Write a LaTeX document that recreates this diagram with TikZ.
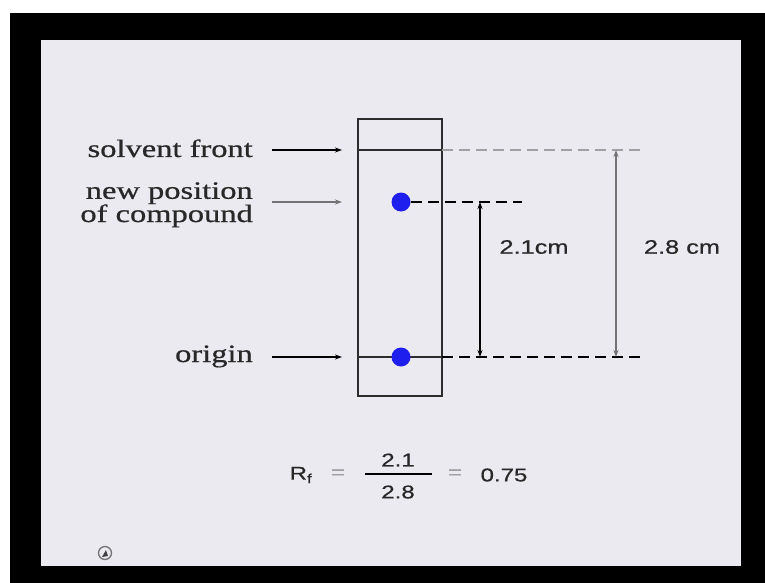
\documentclass[tikz,border=0pt]{standalone}
\usepackage{fontspec}
\setmainfont{Liberation Serif}
\setsansfont{Liberation Sans}
\newfontfamily\labelfont{Liberation Serif}[FakeBold=0.6]
\newfontfamily\dimfont{Liberation Sans}[FakeBold=0.6]
\usetikzlibrary{arrows.meta,positioning,calc}
\definecolor{panelbg}{RGB}{235,234,240}
\definecolor{spotblue}{RGB}{30,30,238}
\definecolor{plateline}{RGB}{45,45,45}
\definecolor{paleline}{RGB}{160,160,160}
\definecolor{midgray}{RGB}{115,115,115}
\definecolor{inktext}{RGB}{40,40,40}
\newcommand{\stretchx}[1]{\scalebox{1.3}[1]{#1}}

\begin{document}
\begin{tikzpicture}[x=1pt, y=-1pt,
    lbl/.style={anchor=base east, inner sep=0pt, text=inktext, font=\labelfont\fontsize{25}{22}\selectfont},
    dimlbl/.style={inner sep=0pt, text=inktext, font=\dimfont\fontsize{19.5}{22}\selectfont},
    eqn/.style={inner sep=0pt, text=inktext, font=\dimfont\fontsize{18.5}{22}\selectfont},
    plate/.style={draw=plateline, line width=2pt, minimum width=84pt, minimum height=277pt, inner sep=0pt},
    spot/.style={circle, fill=spotblue, minimum size=19pt, inner sep=0pt},
    arr/.style={-{Stealth[length=7pt,width=5pt]}, line width=1.6pt},
    dimarr/.style={{Stealth[length=7pt,width=5pt]}-{Stealth[length=7pt,width=5pt]}, line width=1.5pt},
    guide/.style={dash pattern=on 11pt off 6pt, line width=1.8pt}
]
\useasboundingbox (0,0) rectangle (765,583);
\fill[black] (10,13) rectangle (765,583);
\fill[panelbg] (41,40) rectangle (741,566);

% plate and its lines
\node[plate] (tlc) at (400,257.5) {};
\coordinate (frontL) at (358,150);
\coordinate (frontR) at (442,150);
\coordinate (frontE) at (642,150);
\coordinate (originL) at (358,357);
\coordinate (originR) at (442,357);
\coordinate (originE) at (642,357);
\coordinate (upE) at (522,202);
\draw[plateline, line width=1.8pt] (frontL) -- (frontR);
\draw[plateline, line width=1.8pt] (originL) -- (originR);
\draw[guide, paleline, line width=2.2pt] (frontR) -- (frontE);
\draw[guide, black] (originR) -- (originE);

\node[spot] (spotup) at (401,202) {};
\node[spot] (spotlow) at (401,357) {};
\draw[guide, black] (spotup.east) -- (upE);

% labels on the left
\node[lbl] (front) at (253,157) {\stretchx{solvent front}};
\node[lbl] (newpos) at (253,222) {\stretchx{\begin{tabular}[b]{@{}r@{}}new position\\[-1pt]of compound\end{tabular}}};
\node[lbl] (orig) at (253,362) {\stretchx{origin}};

\coordinate (fronttail) at (272,150);
\coordinate (fronthead) at (342,150);
\coordinate (newtail) at (272,202);
\coordinate (newhead) at (342,202);
\coordinate (origtail) at (272,357);
\coordinate (orighead) at (342,357);
\draw[arr] (fronttail) -- (fronthead);
\draw[arr, midgray] (newtail) -- (newhead);
\draw[arr] (origtail) -- (orighead);

% distances
\coordinate (shorttop) at (480,202);
\coordinate (shortbot) at (480,357);
\coordinate (longtop) at (616,150);
\coordinate (longbot) at (616,357);
\draw[dimarr] (shorttop) -- (shortbot);
\draw[dimarr, midgray] (longtop) -- (longbot);
\node[dimlbl] (shortlbl) at (534,247) {\stretchx{2.1cm}};
\node[dimlbl] (longlbl) at (682,247) {\stretchx{2.8 cm}};

% R_f value
\node[eqn] (rf) at (301,475) {\stretchx{R\textsubscript{f}}};
\node[eqn, text=paleline] (eqa) at (338,474) {\stretchx{=}};
\node[eqn] (num) at (398,460) {\stretchx{2.1}};
\node[eqn] (den) at (398,492) {\stretchx{2.8}};
\coordinate (barL) at (365,474);
\coordinate (barR) at (432,474);
\draw[line width=1.5pt] (barL) -- (barR);
\node[eqn, text=paleline] (eqb) at (455,474) {\stretchx{=}};
\node[eqn] (val) at (504,475) {\stretchx{0.75}};

% small icon
\draw[midgray, line width=1.3pt] (105,553) circle (6.5);
\fill[darkgray] (102,557) -- (106,550) -- (108,556) -- cycle;
\end{tikzpicture}
\end{document}
